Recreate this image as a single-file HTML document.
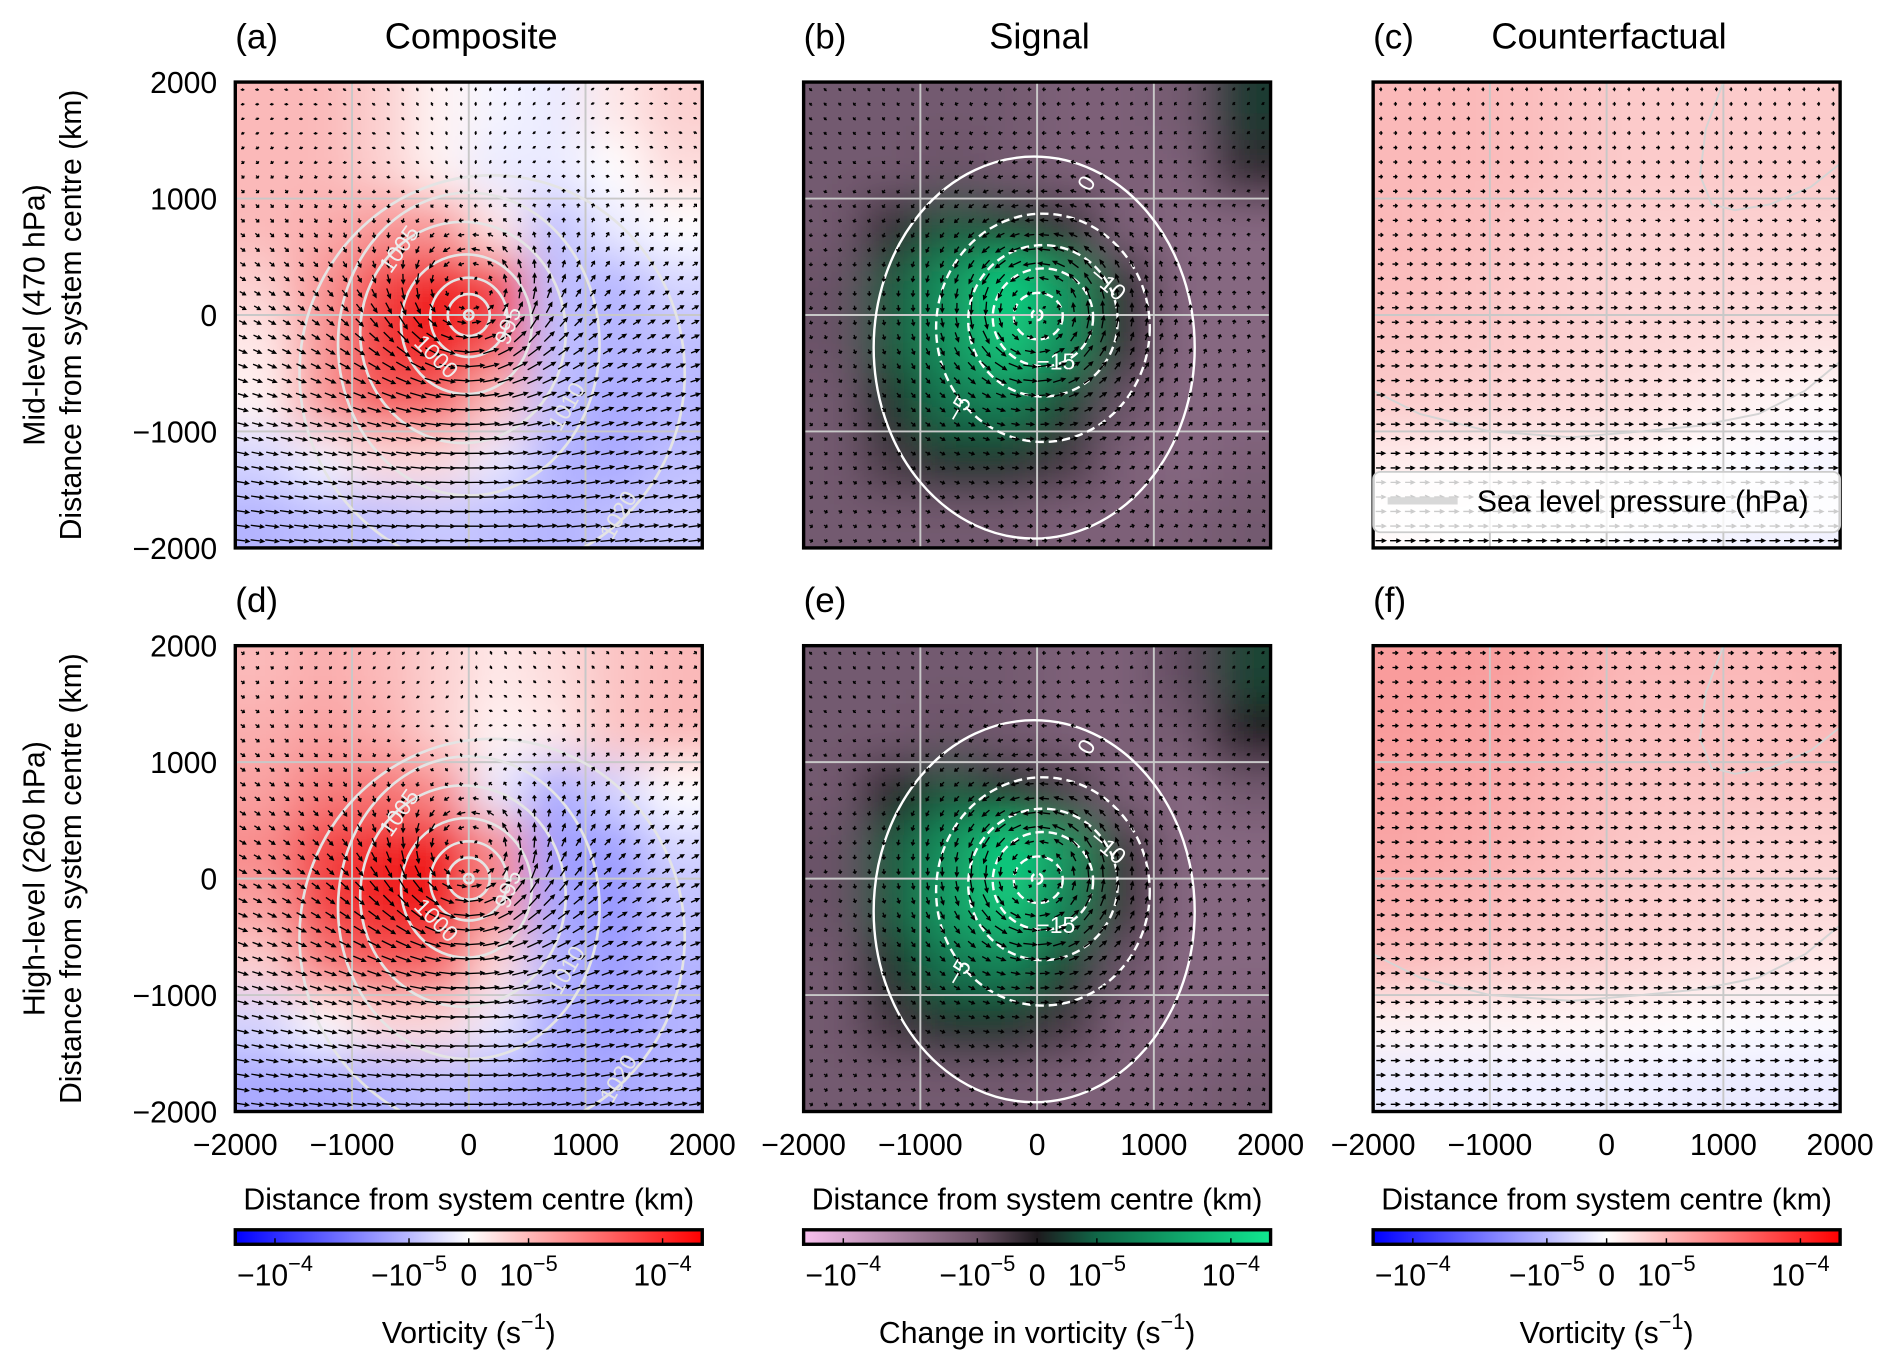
<!DOCTYPE html>
<html><head><meta charset="utf-8"><style>
html,body{margin:0;padding:0;background:#fff;}
svg{display:block;}
text{font-family:"Liberation Sans",sans-serif;fill:#000;}
</style></head><body>
<svg id="fig" xmlns="http://www.w3.org/2000/svg" width="1892" height="1371" viewBox="0 0 1568 1136" preserveAspectRatio="none">
<defs>
<filter id="blur" filterUnits="userSpaceOnUse" x="0" y="0" width="1568" height="1136"><feGaussianBlur stdDeviation="18"/></filter>
<linearGradient id="gBwr" x1="0" x2="1" y1="0" y2="0"><stop offset="0" stop-color="#0000ff"/><stop offset="0.37" stop-color="#b8b8ff"/><stop offset="0.5" stop-color="#ffffff"/><stop offset="0.63" stop-color="#ffb8b8"/><stop offset="1" stop-color="#ff0000"/></linearGradient>
<linearGradient id="gSig" x1="0" x2="1" y1="0" y2="0"><stop offset="0" stop-color="#f8bfee"/><stop offset="0.37" stop-color="#6e5468"/><stop offset="0.5" stop-color="#1e1a1e"/><stop offset="0.63" stop-color="#106848"/><stop offset="1" stop-color="#10e890"/></linearGradient>
</defs>
<g id="root"></g>
</svg>
<script>
// ---------- data ----------
const panelLetters = ["(a)","(b)","(c)","(d)","(e)","(f)"];
const columnTitles = ["Composite","Signal","Counterfactual"];
const rowTitles = ["Mid-level (470 hPa)","High-level (260 hPa)"];
const axisTicks = [-2000,-1000,0,1000,2000];
const axisTickLabels = ["\u22122000","\u22121000","0","1000","2000"];
const cbTickFrac = [0.085,0.372,0.5,0.628,0.915];
const cbTickBase = ["\u221210","\u221210","0","10","10"];
const cbTickExp = ["\u22124","\u22125","","\u22125","\u22124"];
const cbLabels = ["Vorticity (s","Change in vorticity (s","Vorticity (s"];
// vorticity fields, 8x8 cells, rows top (y=+1750) to bottom (y=-1750)
const fieldA = [
[0.3,0.3,0.2,0.05,-0.05,-0.1,0.1,0.2],
[0.3,0.3,0.2,0.05,-0.1,-0.1,0.0,0.15],
[0.3,0.35,0.45,0.45,0.1,-0.3,-0.1,0.0],
[0.2,0.45,0.8,1.0,0.85,-0.3,-0.35,-0.2],
[0.1,0.45,0.85,1.0,0.7,-0.3,-0.35,-0.3],
[0.05,0.45,0.7,0.65,0.25,-0.3,-0.4,-0.35],
[-0.2,-0.05,0.15,0.15,-0.1,-0.35,-0.4,-0.3],
[-0.35,-0.3,-0.3,-0.25,-0.3,-0.35,-0.3,-0.25]];
const fieldB = [
[-0.45,-0.45,-0.45,-0.45,-0.5,-0.5,-0.45,0.15],
[-0.45,-0.45,-0.4,-0.45,-0.5,-0.5,-0.5,-0.1],
[-0.45,-0.1,0.3,0.2,-0.1,-0.5,-0.55,-0.55],
[-0.4,0.3,0.6,0.9,0.6,-0.1,-0.55,-0.55],
[-0.4,0.3,0.6,0.85,0.55,-0.1,-0.55,-0.55],
[-0.45,0.1,0.45,0.5,0.2,-0.4,-0.55,-0.55],
[-0.45,-0.2,0.1,0.1,-0.2,-0.5,-0.55,-0.5],
[-0.45,-0.45,-0.45,-0.45,-0.5,-0.5,-0.5,-0.45]];
const fieldC = [
[0.3,0.3,0.28,0.25,0.22,0.22,0.22,0.22],
[0.3,0.3,0.28,0.25,0.22,0.22,0.22,0.22],
[0.3,0.28,0.25,0.22,0.2,0.2,0.2,0.2],
[0.28,0.26,0.22,0.2,0.18,0.18,0.18,0.18],
[0.26,0.24,0.22,0.2,0.18,0.16,0.14,0.12],
[0.22,0.2,0.18,0.16,0.14,0.1,0.05,0.02],
[0.08,0.06,0.06,0.05,0.04,0.0,-0.02,-0.04],
[0.02,0.0,0.0,0.0,-0.02,-0.04,-0.06,-0.06]];
const fieldD = [
[0.3,0.35,0.3,0.2,0.1,0.15,0.25,0.3],
[0.35,0.4,0.35,0.2,0.05,0.1,0.25,0.3],
[0.4,0.55,0.6,0.5,-0.1,-0.4,-0.2,0.0],
[0.5,0.8,0.95,1.0,0.5,-0.45,-0.45,-0.2],
[0.4,0.8,0.95,1.0,0.45,-0.4,-0.5,-0.3],
[0.2,0.55,0.7,0.65,0.15,-0.35,-0.45,-0.35],
[-0.2,0.0,0.15,0.15,-0.1,-0.4,-0.45,-0.35],
[-0.4,-0.4,-0.35,-0.3,-0.35,-0.4,-0.4,-0.35]];
const fieldE = [
[-0.45,-0.45,-0.45,-0.45,-0.5,-0.5,-0.35,0.2],
[-0.45,-0.45,-0.4,-0.45,-0.5,-0.5,-0.45,0.0],
[-0.45,0.0,0.3,0.1,-0.25,-0.5,-0.55,-0.45],
[-0.4,0.3,0.6,0.9,0.6,-0.15,-0.55,-0.55],
[-0.4,0.3,0.65,0.85,0.5,-0.15,-0.55,-0.55],
[-0.45,0.1,0.45,0.5,0.2,-0.4,-0.55,-0.55],
[-0.45,-0.2,0.1,0.1,-0.2,-0.5,-0.55,-0.5],
[-0.45,-0.45,-0.45,-0.45,-0.5,-0.5,-0.5,-0.45]];
const fieldF = [
[0.42,0.42,0.4,0.35,0.3,0.3,0.3,0.32],
[0.42,0.4,0.38,0.33,0.28,0.28,0.28,0.3],
[0.4,0.38,0.35,0.3,0.26,0.25,0.25,0.25],
[0.38,0.36,0.32,0.28,0.24,0.22,0.2,0.2],
[0.35,0.32,0.28,0.25,0.22,0.2,0.18,0.16],
[0.28,0.25,0.22,0.2,0.18,0.15,0.12,0.1],
[0.05,0.04,0.04,0.03,0.02,0.0,-0.02,-0.02],
[-0.1,-0.1,-0.08,-0.08,-0.08,-0.1,-0.1,-0.1]];
// wind model parameters per panel
const vortexVmax = [0.9,0.95,0,1.0,0.95,0];
const vortexRadius = [550,500,600,550,500,600];
const windUTop = [0.1,0.0,0.15,0.3,0.0,0.35];
const windUBottom = [0.8,0.1,0.7,0.7,0.1,0.6];
// sea level pressure contours (ellipses, km): composite panels
const slpLevels = [985,990,995,1000,1005,1010,1015];
const slpCx = [0,0,0,-20,-50,0,200];
const slpCy = [0,0,-20,-80,-150,-250,-500];
const slpRx = [40,180,330,560,880,1120,1650];
const slpRy = [40,180,340,600,950,1300,1700];
// signal contours
const sigLevels = [0,-5,-10,-15,-20,-25];
const sigCx = [-25,50,50,50,10,0];
const sigCy = [-280,-110,-50,-20,-10,0];
const sigRx = [1375,915,640,430,210,45];
const sigRy = [1640,980,650,420,200,45];
// counterfactual contours (polyline points in km)
const cfLine1X = [1000,850,800,900,1100,1400,1750,2000];
const cfLine1Y = [2000,1600,1200,950,900,950,1100,1300];
const cfLine2X = [-2000,-1600,-1000,-300,300,800,1300,1700,2000];
const cfLine2Y = [-650,-850,-1000,-1050,-1000,-950,-850,-650,-400];

const fields=[fieldA,fieldB,fieldC,fieldD,fieldE,fieldF];
// ---------- layout ----------
const colX=[195,666,1138], rowY=[68,535], PW=387, PH=386;
const NS='http://www.w3.org/2000/svg';
const root=document.getElementById('root');
function mk(tag,attrs,parent){const e=document.createElementNS(NS,tag);for(const k in attrs)e.setAttribute(k,attrs[k]);(parent||root).appendChild(e);return e;}
function sx(c,km){return colX[c]+(km+2000)/4000*PW;}
function sy(r,km){return rowY[r]+(2000-km)/4000*PH;}
function lerp(a,b,t){return [0,1,2].map(i=>Math.round(a[i]+(b[i]-a[i])*t));}
function bwr(v){v=Math.max(-1,Math.min(1,v));return v>=0?lerp([255,255,255],[240,20,20],v):lerp([255,255,255],[40,40,255],-v);}
function sig(v){v=Math.max(-1,Math.min(1,v));return v>=0?lerp([32,28,32],[15,228,140],v):lerp([32,28,32],[250,190,240],-v*0.85);}
function rgb(c){return 'rgb('+c.join(',')+')';}

for(let p=0;p<6;p++){
  const c=p%3, r=Math.floor(p/3);
  const x0=colX[c], y0=rowY[r];
  const clipId='clip'+p;
  const cp=mk('clipPath',{id:clipId});
  mk('rect',{x:x0,y:y0,width:PW,height:PH},cp);
  const panel=mk('g',{});
  
  
  const inner=mk('g',{'clip-path':'url(#'+clipId+')'},panel);
  const hm=mk('g',{filter:'url(#blur)'},inner);
  
  
  const F=fields[p], cmap=(c===1)?sig:bwr;
  for(let i=0;i<8;i++)for(let j=0;j<8;j++){
    const kmL=-2000+j*500, kmT=2000-i*500;
    let xa=sx(c,kmL), xb=sx(c,kmL+500), ya=sy(r,kmT), yb=sy(r,kmT-500);
    if(j===0)xa-=70; if(j===7)xb+=70; if(i===0)ya-=70; if(i===7)yb+=70;
    const cell=mk('rect',{x:xa,y:ya,width:xb-xa+0.5,height:yb-ya+0.5,fill:rgb(cmap(F[i][j]))},hm);
    
    
  }
  for(const t of [-1000,0,1000]){
    mk('line',{x1:sx(c,t),x2:sx(c,t),y1:y0,y2:y0+PH,stroke:'#c8c8c8','stroke-width':1.6},inner);
    mk('line',{x1:x0,x2:x0+PW,y1:sy(r,t),y2:sy(r,t),stroke:'#c8c8c8','stroke-width':1.6},inner);
  }
  if(c===0){
    for(let k=0;k<slpLevels.length;k++){
      const e=mk('ellipse',{cx:sx(c,slpCx[k]),cy:sy(r,slpCy[k]),rx:slpRx[k]/4000*PW,ry:slpRy[k]/4000*PH,fill:'none',stroke:'#e4e4e4','stroke-width':2.2},inner);
      
      
    }
  } else if(c===1){
    for(let k=0;k<sigLevels.length;k++){
      const e=mk('ellipse',{cx:sx(c,sigCx[k]),cy:sy(r,sigCy[k]),rx:sigRx[k]/4000*PW,ry:sigRy[k]/4000*PH,fill:'none',stroke:'#ffffff','stroke-width':2,'stroke-dasharray':sigLevels[k]<0?'7,4':'none'},inner);
      
      
    }
  } else {
    for(const [LX,LY] of [[cfLine1X,cfLine1Y],[cfLine2X,cfLine2Y]]){
      const pts=LX.map((v,i)=>sx(c,v)+','+sy(r,LY[i])).join(' ');
      const e=mk('polyline',{points:pts,fill:'none',stroke:'#d4d4d4','stroke-width':1.6},inner);
      
      
    }
  }
  let d='';
  const N=32, step=4000/N;
  for(let i=0;i<N;i++)for(let j=0;j<N;j++){
    const kx=-2000+step*(j+0.5), ky=2000-step*(i+0.5);
    let u=windUTop[p]+(windUBottom[p]-windUTop[p])*(2000-ky)/4000, v=0;
    const rr=Math.hypot(kx,ky)+1e-6, R=vortexRadius[p];
    const V=vortexVmax[p]*(rr<R?rr/R:Math.pow(R/rr,1.1));
    u+=-ky/rr*V; v+=kx/rr*V;
    const sp=Math.hypot(u,v);
    let L=Math.min(sp*12,13); if(L<1.6)L=1.6;
    const ux=sp>0?u/sp:1, uy=sp>0?-v/sp:0;
    const cx=sx(c,kx), cy=sy(r,ky);
    const ax=cx-ux*L/2, ay=cy-uy*L/2, bx=cx+ux*L/2, by=cy+uy*L/2;
    const h=Math.min(3.2,L*0.45), w=1.5;
    d+='M'+ax.toFixed(1)+' '+ay.toFixed(1)+'L'+bx.toFixed(1)+' '+by.toFixed(1);
    d+='M'+(bx-ux*h-uy*w).toFixed(1)+' '+(by-uy*h+ux*w).toFixed(1)+'L'+bx.toFixed(1)+' '+by.toFixed(1)+'L'+(bx-ux*h+uy*w).toFixed(1)+' '+(by-uy*h-ux*w).toFixed(1);
  }
  const q=mk('path',{d:d,stroke:'#000',fill:'none','stroke-width':1.1},inner);
  
  
  const fr=mk('rect',{x:x0,y:y0,width:PW,height:PH,fill:'none',stroke:'#000','stroke-width':2.8},panel);
  
  
  const lt=mk('text',{x:x0,y:y0-28,'font-size':29},panel); lt.textContent=panelLetters[p];
  
  
  if(r===0){const tt=mk('text',{x:x0+PW/2+2,y:y0-28,'font-size':30,'text-anchor':'middle'},panel);tt.textContent=columnTitles[c];
    
    }
  if(c===0){
    for(let k=0;k<axisTicks.length;k++){
      const t=mk('text',{x:x0-15,y:sy(r,axisTicks[k])+9,'font-size':25,'text-anchor':'end'},panel);t.textContent=axisTickLabels[k];
      
      
    }
    const yc=y0+PH/2;
    const t1=mk('text',{x:0,y:0,'font-size':25,'text-anchor':'middle',transform:'translate(37,'+yc+') rotate(-90)'},panel);t1.textContent=rowTitles[r];
    
    
    const t2=mk('text',{x:0,y:0,'font-size':25,'text-anchor':'middle',transform:'translate(67,'+yc+') rotate(-90)'},panel);t2.textContent='Distance from system centre (km)';
    
    
  }
  if(r===1){
    for(let k=0;k<axisTicks.length;k++){
      const t=mk('text',{x:sx(c,axisTicks[k]),y:y0+PH+36,'font-size':25,'text-anchor':'middle'},panel);t.textContent=axisTickLabels[k];
      
      
    }
    const xt=mk('text',{x:x0+PW/2,y:y0+PH+81,'font-size':25,'text-anchor':'middle'},panel);xt.textContent='Distance from system centre (km)';
    
    
  }
}
function clabel(txt,x,y,rot,col){const t=mk('text',{x:x,y:y,'font-size':19,'text-anchor':'middle',fill:col,style:'fill:'+col,transform:'rotate('+rot+' '+x+' '+y+')'});t.textContent=txt;
  
  }
for(const r of [0,1]){
  const o=rowY[r]-68;
  clabel('1005',336,210+o,-55,'#eeeeee');clabel('995',427,272+o,-70,'#eeeeee');clabel('1000',357,300+o,45,'#eeeeee');clabel('1010',475,340+o,-60,'#e4e4e4');clabel('1020',518,430+o,-60,'#e4e4e4');
  clabel('0',906,155+o,-60,'#fff');clabel('\u221210',914,240+o,40,'#fff');clabel('\u221215',875,306+o,0,'#fff');clabel('\u22125',800,342+o,-60,'#fff');
}
const lg=mk('g',{});


mk('rect',{x:1138,y:391,width:387,height:50,rx:6,fill:'#ffffff','fill-opacity':0.8,stroke:'#cccccc','stroke-width':1.5},lg);
mk('line',{x1:1150,x2:1208,y1:415,y2:415,stroke:'#d8d8d8','stroke-width':6},lg);
const lt=mk('text',{x:1224,y:424,'font-size':25},lg);lt.textContent='Sea level pressure (hPa)';
for(let c=0;c<3;c++){
  const x0=colX[c], y0=1019;
  const g=mk('g',{});
  
  
  mk('rect',{x:x0,y:y0,width:PW,height:12,fill:c===1?'url(#gSig)':'url(#gBwr)',stroke:'#000','stroke-width':2.8},g);
  for(let k=0;k<cbTickFrac.length;k++){
    const tx=x0+cbTickFrac[k]*PW;
    mk('line',{x1:tx,x2:tx,y1:y0+12,y2:y0+7,stroke:'#000','stroke-width':1.2},g);
    const t=mk('text',{x:tx,y:y0+46,'font-size':25,'text-anchor':'middle'},g);
    
    
    const b=mk('tspan',{},t);b.textContent=cbTickBase[k];
    if(cbTickExp[k]){const s=mk('tspan',{dy:-12,'font-size':18},t);s.textContent=cbTickExp[k];}
  }
  const lab=mk('text',{x:x0+PW/2,y:1113,'font-size':25,'text-anchor':'middle'},g);
  
  
  const a=mk('tspan',{},lab);a.textContent=cbLabels[c];
  const e=mk('tspan',{dy:-12,'font-size':18},lab);e.textContent='\u22121';
  const z=mk('tspan',{dy:12},lab);z.textContent=')';
}
</script>
</body></html>
